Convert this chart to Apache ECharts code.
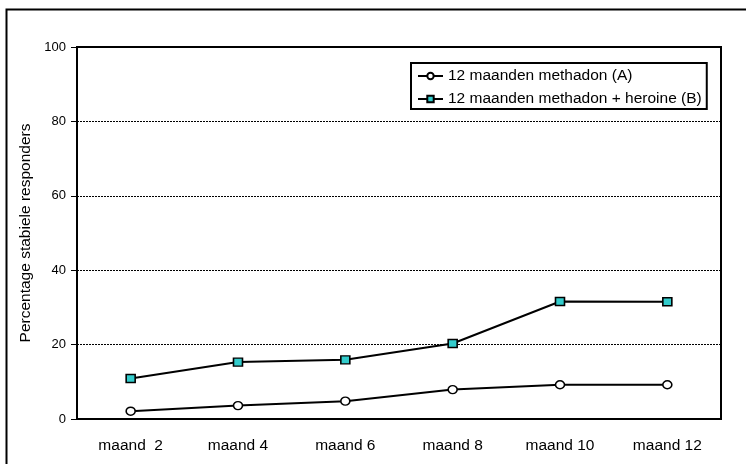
<!DOCTYPE html>
<html>
<head>
<meta charset="utf-8">
<script src="https://cdn.jsdelivr.net/npm/echarts@6/dist/echarts.min.js"></script>
<style>
  html, body { margin: 0; padding: 0; background: #fff; }
  #chart { width: 746px; height: 464px; }
</style>
</head>
<body>
<div id="chart"></div>
<script>
// Months of follow-up
const categories = ['maand  2', 'maand 4', 'maand 6', 'maand 8', 'maand 10', 'maand 12'];
// Percentage of stable responders per treatment arm
const methadonA = [2.1, 3.6, 4.8, 7.9, 9.2, 9.2];
const methadonHeroineB = [10.9, 15.3, 15.9, 20.3, 31.6, 31.5];
const seriesNames = ['12 maanden methadon (A)', '12 maanden methadon + heroine (B)'];
const yTicks = { min: 0, max: 100, interval: 20 };

const FONT = '"Liberation Sans", Arial, sans-serif';
const chart = echarts.init(document.getElementById('chart'), null, { renderer: 'canvas' });

chart.setOption({
  animation: false,
  backgroundColor: '#ffffff',
  textStyle: { fontFamily: FONT, color: '#000' },
  graphic: [{
    type: 'rect',
    shape: { x: 6.5, y: 9.5, width: 800, height: 500 },
    style: { fill: 'none', stroke: '#000', lineWidth: 2 },
    silent: true,
    z: -1
  }],
  grid: {
    left: 77, top: 47, right: 25, bottom: 45,
    show: true,
    borderColor: '#000',
    borderWidth: 2,
    backgroundColor: 'transparent'
  },
  legend: {
    orient: 'vertical',
    left: 411,
    top: 63,
    borderColor: '#000',
    borderWidth: 2,
    padding: [5, 5, 2, 6],
    itemGap: 7,
    itemWidth: 25,
    itemHeight: 8,
    textStyle: { fontFamily: FONT, fontSize: 15.5, color: '#000' },
    data: seriesNames
  },
  xAxis: {
    type: 'category',
    data: categories,
    boundaryGap: true,
    axisLine: { show: true, lineStyle: { color: '#000', width: 2 } },
    axisTick: { show: false },
    axisLabel: { fontFamily: FONT, fontSize: 15.5, color: '#000', margin: 19 },
    splitLine: { show: false }
  },
  yAxis: {
    type: 'value',
    min: yTicks.min,
    max: yTicks.max,
    interval: yTicks.interval,
    name: 'Percentage stabiele responders',
    nameLocation: 'middle',
    nameGap: 35,
    nameTextStyle: { fontFamily: FONT, fontSize: 15.5, color: '#000' },
    axisLine: { show: true, lineStyle: { color: '#000', width: 2 } },
    axisTick: { show: true, inside: false, length: 6, lineStyle: { color: '#000', width: 1 } },
    axisLabel: { fontFamily: FONT, fontSize: 13, color: '#000', margin: 11 },
    splitLine: { show: true, lineStyle: { color: '#000', width: 1, type: [2, 1] } }
  },
  series: [
    {
      name: seriesNames[0],
      type: 'line',
      data: methadonA,
      symbol: 'circle',
      symbolSize: [9, 8],
      lineStyle: { color: '#000', width: 2 },
      itemStyle: { color: '#fff', borderColor: '#000', borderWidth: 1.5 },
      z: 3
    },
    {
      name: seriesNames[1],
      type: 'line',
      data: methadonHeroineB,
      symbol: 'rect',
      symbolSize: [9, 8],
      lineStyle: { color: '#000', width: 2 },
      itemStyle: { color: '#33cccc', borderColor: '#000', borderWidth: 1.5 },
      z: 3
    }
  ]
});
</script>
</body>
</html>
